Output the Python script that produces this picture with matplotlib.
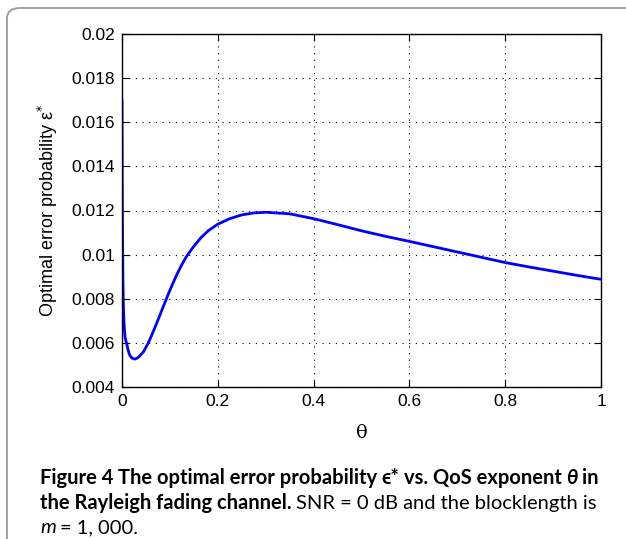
import matplotlib
matplotlib.use("Agg")
import matplotlib.pyplot as plt
from matplotlib.patches import FancyBboxPatch

# values
theta = [0, 0.0005, 0.001, 0.002, 0.003, 0.004, 0.005, 0.0065, 0.008, 0.01,
         0.0125, 0.015, 0.0175, 0.02, 0.0235, 0.027, 0.031, 0.035, 0.045, 0.055,
         0.065, 0.075, 0.085, 0.095, 0.105, 0.115, 0.125, 0.135, 0.15, 0.165,
         0.18, 0.2, 0.225, 0.25, 0.275, 0.3, 0.35, 0.4, 0.45, 0.5,
         0.55, 0.6, 0.65, 0.7, 0.75, 0.8, 0.85, 0.9, 0.95, 1.0]
eps = [0.0170, 0.0135, 0.0112, 0.0087, 0.0076, 0.0070, 0.0066, 0.00625, 0.0061, 0.00595,
       0.0057, 0.0055, 0.0054, 0.00533, 0.00528, 0.00527, 0.0053, 0.00536, 0.0056, 0.0060,
       0.0065, 0.00703, 0.00758, 0.00812, 0.00864, 0.00912, 0.00955, 0.00993, 0.01038, 0.01077,
       0.01108, 0.01138, 0.01163, 0.0118, 0.01189, 0.01192, 0.01185, 0.01163, 0.01136, 0.01108,
       0.01083, 0.0106, 0.01036, 0.01012, 0.00988, 0.00964, 0.00944, 0.00925, 0.00906, 0.00888]

xticks = [0, 0.2, 0.4, 0.6, 0.8, 1]
xticklabels = ["0", "0.2", "0.4", "0.6", "0.8", "1"]
yticks = [0.004, 0.006, 0.008, 0.01, 0.012, 0.014, 0.016, 0.018, 0.02]
yticklabels = ["0.004", "0.006", "0.008", "0.01", "0.012", "0.014", "0.016", "0.018", "0.02"]

W, H = 626, 539
fig = plt.figure(figsize=(W / 100, H / 100), dpi=100)

# rounded frame around the panel; only top and left edges fall inside the image
frame = FancyBboxPatch((7 / W, -0.3), 1.2, 1.3 - 8 / H,
                       boxstyle="round,pad=0,rounding_size=0.02",
                       transform=fig.transFigure, fill=False,
                       edgecolor="#9a9a9a", linewidth=1.3)
fig.patches.append(frame)

ax = fig.add_axes([122 / W, 1 - 387 / H, 479 / W, 353 / H])
ax.plot(theta, eps, color="#0000ff", linewidth=2)

ax.set_xlim(0, 1)
ax.set_ylim(0.004, 0.02)
tick_font = dict(family="Liberation Sans", size=12.5)
ax.set_xticks(xticks)
ax.set_xticklabels(xticklabels, fontdict=tick_font)
ax.set_yticks(yticks)
ax.set_yticklabels(yticklabels, fontdict=tick_font)
ax.tick_params(direction="in", top=True, right=True, length=5, width=0.8, pad=5)
ax.grid(True, color="black", linestyle=(0, (1, 5)), linewidth=0.8)
for sp in ax.spines.values():
    sp.set_linewidth(1.0)

ax.set_xlabel("θ", family="DejaVu Serif", fontsize=14, labelpad=11)
ax.set_ylabel("Optimal error probability ε$^{*}$", family="Liberation Sans",
              fontsize=13, labelpad=8)

# caption, drawn run by run so bold/regular/italic can mix on a line
cap = 14.5
bold = dict(family="Lato", weight="bold", size=cap)
reg = dict(family="Lato", size=cap)
ital = dict(family="Lato", style="italic", size=cap)

def line(x_px, y_px, parts):
    r = fig.canvas.get_renderer()
    x = x_px
    for s, kw, gap in parts:
        t = fig.text(x / W, 1 - y_px / H, s, va="baseline", ha="left", **kw)
        x += t.get_window_extent(r).width + gap

sp = 4.5
line(40, 484, [("Figure 4", bold, sp), ("The optimal error probability", bold, sp),
               ("ϵ*", bold, sp), ("vs. QoS exponent", bold, sp),
               ("θ", dict(bold, style="italic"), sp), ("in", bold, 0)])
line(40, 509, [("the Rayleigh fading channel.", bold, sp),
               ("SNR = 0 dB and the blocklength is", reg, 0)])
line(40, 533, [("m", ital, sp), ("= 1, 000.", reg, 0)])

fig.savefig("out.png", dpi=100)
